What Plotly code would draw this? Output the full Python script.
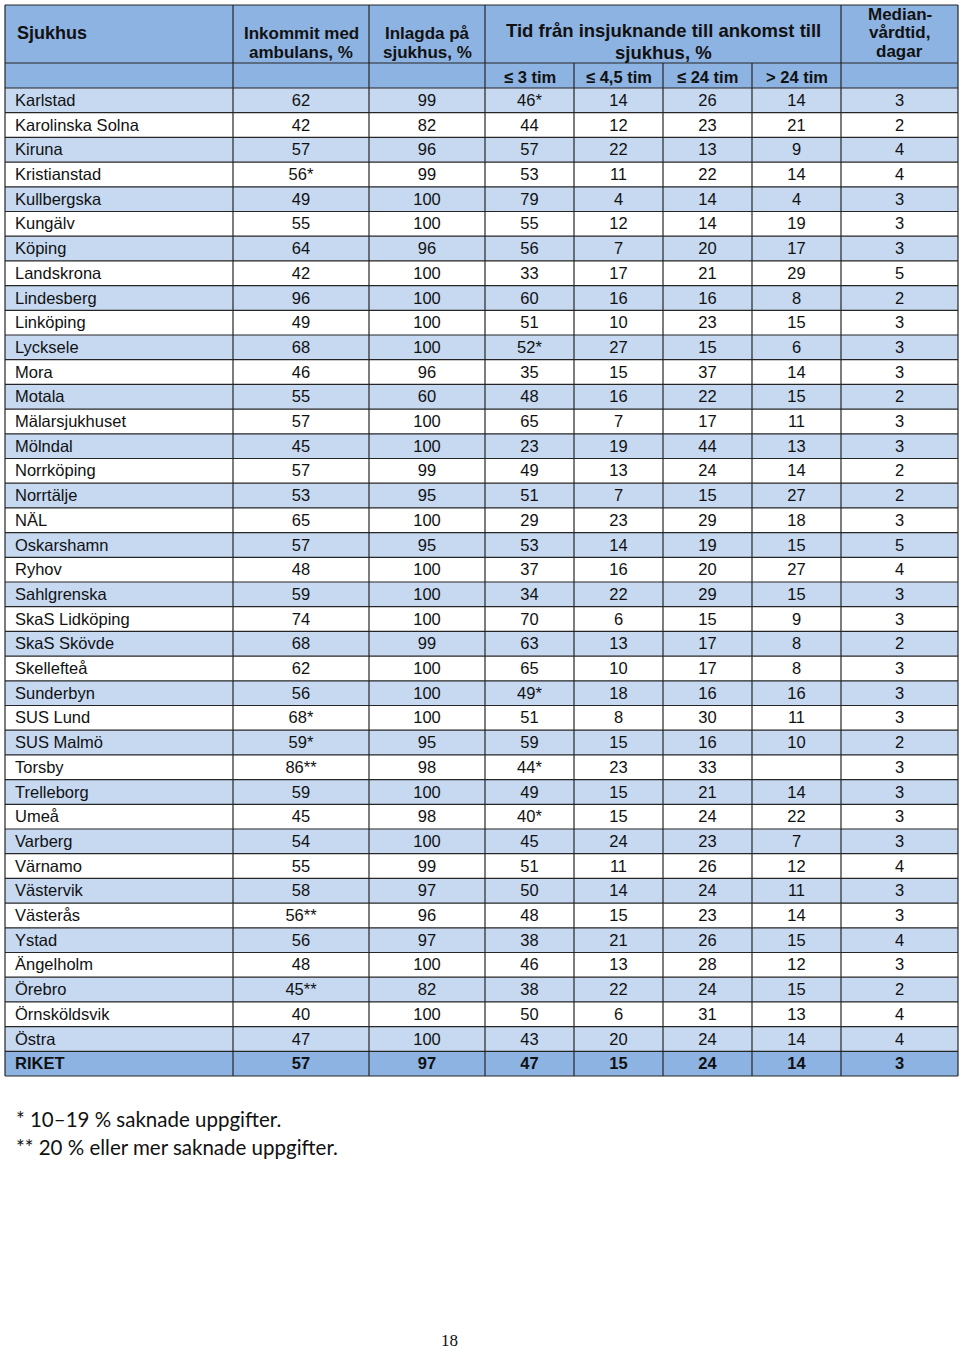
import plotly.graph_objects as go

# table data
sjukhus = ["Karlstad", "Karolinska Solna", "Kiruna", "Kristianstad", "Kullbergska", "Kungälv",
           "Köping", "Landskrona", "Lindesberg", "Linköping", "Lycksele", "Mora", "Motala",
           "Mälarsjukhuset", "Mölndal", "Norrköping", "Norrtälje", "NÄL", "Oskarshamn", "Ryhov",
           "Sahlgrenska", "SkaS Lidköping", "SkaS Skövde", "Skellefteå", "Sunderbyn", "SUS Lund",
           "SUS Malmö", "Torsby", "Trelleborg", "Umeå", "Varberg", "Värnamo", "Västervik",
           "Västerås", "Ystad", "Ängelholm", "Örebro", "Örnsköldsvik", "Östra", "RIKET"]
ambulans = ["62", "42", "57", "56*", "49", "55", "64", "42", "96", "49", "68", "46", "55", "57",
            "45", "57", "53", "65", "57", "48", "59", "74", "68", "62", "56", "68*", "59*", "86**",
            "59", "45", "54", "55", "58", "56**", "56", "48", "45**", "40", "47", "57"]
inlagda = ["99", "82", "96", "99", "100", "100", "96", "100", "100", "100", "100", "96", "60",
           "100", "100", "99", "95", "100", "95", "100", "100", "100", "99", "100", "100", "100",
           "95", "98", "100", "98", "100", "99", "97", "96", "97", "100", "82", "100", "100", "97"]
tim_3 = ["46*", "44", "57", "53", "79", "55", "56", "33", "60", "51", "52*", "35", "48", "65",
         "23", "49", "51", "29", "53", "37", "34", "70", "63", "65", "49*", "51", "59", "44*",
         "49", "40*", "45", "51", "50", "48", "38", "46", "38", "50", "43", "47"]
tim_45 = ["14", "12", "22", "11", "4", "12", "7", "17", "16", "10", "27", "15", "16", "7", "19",
          "13", "7", "23", "14", "16", "22", "6", "13", "10", "18", "8", "15", "23", "15", "15",
          "24", "11", "14", "15", "21", "13", "22", "6", "20", "15"]
tim_24 = ["26", "23", "13", "22", "14", "14", "20", "21", "16", "23", "15", "37", "22", "17",
          "44", "24", "15", "29", "19", "20", "29", "15", "17", "17", "16", "30", "16", "33",
          "21", "24", "23", "26", "24", "23", "26", "28", "24", "31", "24", "24"]
over_24 = ["14", "21", "9", "14", "4", "19", "17", "29", "8", "15", "6", "14", "15", "11", "13",
           "14", "27", "18", "15", "27", "15", "9", "8", "8", "16", "11", "10", "", "14", "22",
           "7", "12", "11", "14", "15", "12", "15", "13", "14", "14"]
median = ["3", "2", "4", "4", "3", "3", "3", "5", "2", "3", "3", "3", "2", "3", "3", "2", "2",
          "3", "5", "4", "3", "3", "2", "3", "3", "3", "2", "3", "3", "3", "3", "4", "3", "3",
          "4", "3", "2", "4", "4", "3"]

sub_headers = ["≤ 3 tim", "≤ 4,5 tim", "≤ 24 tim", "> 24 tim"]
footnotes = ["* 10–19 % saknade uppgifter.", "** 20 % eller mer saknade uppgifter."]
page_no = "18"

# layout in page pixels
edges = [5, 233, 369, 485, 574, 663, 752, 841, 958]
top, head_split, body_top, body_bottom = 5, 63, 88, 1076
n = len(sjukhus)
row_h = (body_bottom - body_top) / n

HEAD = "#8db3e2"
LIGHT = "#c6d9f1"
LINE = "#262626"
FONT = "Liberation Sans, Arial, sans-serif"

fig = go.Figure()
shapes = []

# header background
shapes.append(dict(type="rect", x0=edges[0], x1=edges[-1], y0=top, y1=body_top,
                   fillcolor=HEAD, line_width=0, layer="below"))

# body row backgrounds
for i in range(n):
    y0 = body_top + i * row_h
    if i == n - 1:
        color = HEAD
    elif i % 2 == 0:
        color = LIGHT
    else:
        color = "white"
    shapes.append(dict(type="rect", x0=edges[0], x1=edges[-1], y0=y0, y1=y0 + row_h,
                       fillcolor=color, line_width=0, layer="below"))

# horizontal rules
for y in [top, head_split, body_top] + [body_top + i * row_h for i in range(1, n + 1)]:
    shapes.append(dict(type="line", x0=edges[0], x1=edges[-1], y0=y, y1=y,
                       line=dict(color=LINE, width=1.2), layer="below"))

# vertical rules
for k, x in enumerate(edges):
    y_start = head_split if k in (4, 5, 6) else top
    shapes.append(dict(type="line", x0=x, x1=x, y0=y_start, y1=body_bottom,
                       line=dict(color=LINE, width=1.2), layer="below"))

fig.update_layout(shapes=shapes)

# text sits a touch below the geometric middle of each row
centers = [body_top + (i + 0.5) * row_h + 1.5 for i in range(n)]


def bold_last(vals):
    return [f"<b>{v}</b>" if i == n - 1 else v for i, v in enumerate(vals)]


# hospital name column (left aligned)
fig.add_trace(go.Scatter(
    x=[15] * n, y=centers, mode="text", text=bold_last(sjukhus),
    textposition="middle right", textfont=dict(family=FONT, size=16.5, color="#111111"),
    hoverinfo="skip", showlegend=False, cliponaxis=False))

columns = [ambulans, inlagda, tim_3, tim_45, tim_24, over_24, median]
for k, vals in enumerate(columns):
    xc = (edges[k + 1] + edges[k + 2]) / 2
    fig.add_trace(go.Scatter(
        x=[xc] * n, y=centers, mode="text", text=bold_last(vals),
        textposition="middle center", textfont=dict(family=FONT, size=16.5, color="#111111"),
        hoverinfo="skip", showlegend=False, cliponaxis=False))

annotations = []


def head_text(x, y, text, size=17, xanchor="center"):
    annotations.append(dict(x=x, y=y, text=f"<b>{text}</b>", showarrow=False,
                            xanchor=xanchor, yanchor="middle", xref="x", yref="y",
                            font=dict(family=FONT, size=size, color="#111111")))


head_text(15, 33, "Sjukhus", size=18, xanchor="left")
c1 = (edges[1] + edges[2]) / 2
c2 = (edges[2] + edges[3]) / 2
c_tid = (edges[3] + edges[7]) / 2
c_med = (edges[7] + edges[8]) / 2
head_text(c1, 33, "Inkommit med")
head_text(c1, 52, "ambulans, %")
head_text(c2, 33, "Inlagda på")
head_text(c2, 52, "sjukhus, %")
head_text(c_tid, 30, "Tid från insjuknande till ankomst till", size=18.5)
head_text(c_tid, 52, "sjukhus, %", size=18.5)
head_text(c_med, 14, "Median-")
head_text(c_med, 32, "vårdtid,")
head_text(c_med, 51, "dagar")
for k, label in enumerate(sub_headers):
    head_text((edges[3 + k] + edges[4 + k]) / 2, 77, label, size=16.5)

for j, note in enumerate(footnotes):
    annotations.append(dict(x=14, y=1119 + j * 28, text=note, showarrow=False,
                            xanchor="left", yanchor="middle", xref="x", yref="y",
                            font=dict(family="Lato, Open Sans, sans-serif", size=20.5,
                                      color="#111111")))

annotations.append(dict(x=449, y=1340, text=page_no, showarrow=False, xref="x", yref="y",
                        xanchor="center", yanchor="middle",
                        font=dict(family="Liberation Serif, Times New Roman, serif", size=17,
                                  color="#111111")))

fig.update_layout(
    annotations=annotations,
    width=960, height=1350,
    margin=dict(l=0, r=0, t=0, b=0),
    paper_bgcolor="white", plot_bgcolor="white",
    xaxis=dict(range=[0, 960], visible=False, fixedrange=True),
    yaxis=dict(range=[1350, 0], visible=False, fixedrange=True),
    showlegend=False,
)

# page has a default 8px body margin; drop it so the figure sits at the window's corner
fig.write_html("out.html",
               config={"displayModeBar": False},
               post_script="document.body.style.margin='0px';"
                           "document.body.style.overflow='hidden';")
